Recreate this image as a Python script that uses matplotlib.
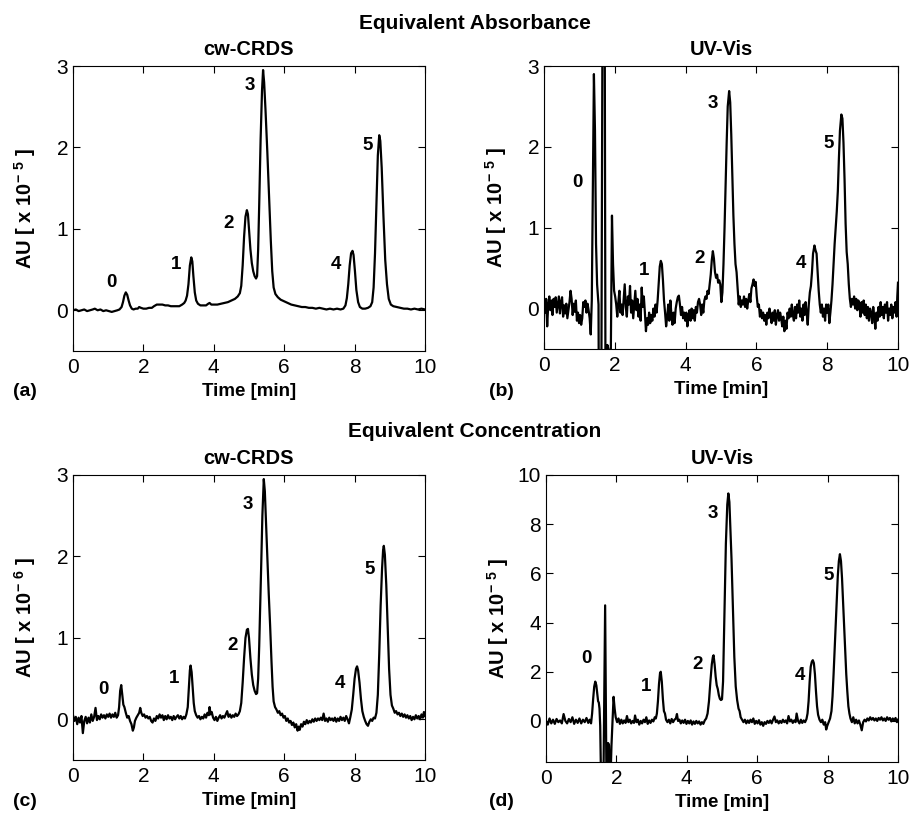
import numpy as np
import matplotlib
matplotlib.use('Agg')
import matplotlib.pyplot as plt

plt.rcParams['font.family'] = ['Liberation Sans', 'DejaVu Sans']
plt.rcParams['mathtext.fontset'] = 'custom'
plt.rcParams['mathtext.rm'] = 'Liberation Sans'
plt.rcParams['mathtext.bf'] = 'Liberation Sans:bold'

# traces: (time [min], AU)
# (a) cw-CRDS, equivalent absorbance, x 1e-5
trace_a = [
    (0.00, 0.00), (0.08, 0.01), (0.16, -0.01), (0.24, 0.00), (0.32, 0.01), (0.40, -0.01), (0.48, 0.00),
    (0.56, 0.01), (0.62, 0.02), (0.70, 0.00), (0.78, 0.01), (0.86, -0.01), (0.94, 0.00), (1.02, -0.01),
    (1.10, -0.02), (1.18, -0.01), (1.26, 0.00), (1.32, 0.01), (1.38, 0.04), (1.42, 0.10), (1.46, 0.18),
    (1.50, 0.22), (1.54, 0.19), (1.58, 0.12), (1.62, 0.06), (1.67, 0.02), (1.72, 0.01), (1.78, 0.02),
    (1.84, 0.02), (1.88, 0.04), (1.93, 0.03), (2.00, 0.02), (2.08, 0.02), (2.16, 0.03), (2.24, 0.03),
    (2.30, 0.05), (2.38, 0.07), (2.46, 0.07), (2.54, 0.07), (2.62, 0.06), (2.70, 0.06), (2.78, 0.05),
    (2.86, 0.05), (2.94, 0.05), (3.02, 0.05), (3.10, 0.07), (3.16, 0.09), (3.20, 0.12), (3.24, 0.18),
    (3.28, 0.32), (3.32, 0.55), (3.36, 0.65), (3.39, 0.60), (3.42, 0.42), (3.46, 0.22), (3.50, 0.12),
    (3.55, 0.08), (3.62, 0.06), (3.70, 0.06), (3.78, 0.06), (3.84, 0.08), (3.88, 0.09), (3.93, 0.07),
    (4.00, 0.07), (4.10, 0.07), (4.20, 0.08), (4.30, 0.09), (4.40, 0.10), (4.50, 0.12), (4.60, 0.14),
    (4.68, 0.17), (4.74, 0.21), (4.78, 0.30), (4.82, 0.55), (4.86, 0.90), (4.90, 1.15), (4.94, 1.23),
    (4.97, 1.18), (5.00, 1.00), (5.04, 0.75), (5.08, 0.58), (5.12, 0.48), (5.16, 0.42), (5.20, 0.39),
    (5.23, 0.42), (5.26, 0.75), (5.29, 1.30), (5.33, 2.10), (5.37, 2.70), (5.40, 2.95), (5.43, 2.80),
    (5.47, 2.45), (5.52, 1.95), (5.57, 1.40), (5.62, 0.85), (5.66, 0.48), (5.70, 0.28), (5.75, 0.20),
    (5.82, 0.16), (5.90, 0.13), (6.00, 0.11), (6.10, 0.09), (6.20, 0.07), (6.30, 0.06), (6.40, 0.05),
    (6.50, 0.04), (6.60, 0.04), (6.70, 0.03), (6.80, 0.03), (6.90, 0.02), (7.00, 0.03), (7.10, 0.02),
    (7.20, 0.01), (7.30, 0.02), (7.40, 0.01), (7.50, 0.02), (7.60, 0.01), (7.68, 0.02), (7.74, 0.06),
    (7.78, 0.15), (7.82, 0.32), (7.86, 0.55), (7.90, 0.70), (7.94, 0.73), (7.97, 0.68), (8.01, 0.48),
    (8.05, 0.25), (8.10, 0.10), (8.15, 0.04), (8.22, 0.02), (8.30, 0.02), (8.38, 0.03), (8.45, 0.05),
    (8.50, 0.10), (8.54, 0.28), (8.58, 0.70), (8.62, 1.30), (8.66, 1.90), (8.70, 2.15), (8.73, 2.08),
    (8.77, 1.75), (8.82, 1.15), (8.87, 0.62), (8.92, 0.32), (8.97, 0.14), (9.03, 0.07), (9.10, 0.05),
    (9.20, 0.04), (9.30, 0.03), (9.40, 0.02), (9.50, 0.02), (9.60, 0.01), (9.70, 0.02), (9.80, 0.01),
    (9.90, 0.02), (10.00, 0.01),
]

# (b) UV-Vis, equivalent absorbance, x 1e-5
trace_b = [
    (0.00, 0.10), (0.03, -0.05), (0.06, 0.12), (0.09, -0.22), (0.12, 0.05), (0.15, 0.15), (0.18, -0.02),
    (0.21, 0.10), (0.24, -0.08), (0.27, 0.12), (0.30, 0.02), (0.33, 0.14), (0.36, -0.05), (0.39, 0.05),
    (0.42, 0.15), (0.45, -0.06), (0.48, 0.08), (0.51, 0.14), (0.54, -0.10), (0.57, 0.04), (0.60, -0.06),
    (0.63, 0.06), (0.66, -0.12), (0.69, -0.02), (0.72, 0.08), (0.75, 0.22), (0.78, 0.12), (0.81, -0.08),
    (0.84, 0.06), (0.87, -0.04), (0.90, 0.10), (0.93, -0.15), (0.96, -0.05), (0.99, -0.18), (1.02, -0.08),
    (1.05, -0.20), (1.08, -0.12), (1.11, 0.08), (1.14, 0.02), (1.17, 0.10), (1.20, -0.05), (1.23, 0.06),
    (1.26, -0.02), (1.29, -0.12), (1.32, -0.32), (1.35, 0.10), (1.38, 1.50), (1.41, 2.90), (1.44, 2.20),
    (1.47, 0.80), (1.50, 0.30), (1.54, 0.05), (1.585, -6.0), (1.69, 9.0), (1.76, -6.0), (1.79, -0.45),
    (1.82, -0.50), (1.86, -2.0), (1.92, 1.15), (1.95, 0.55), (1.98, 0.22),
    (2.01, 0.15), (2.04, 0.05), (2.07, -0.10), (2.10, 0.08), (2.13, 0.22), (2.16, -0.05), (2.19, 0.05),
    (2.22, -0.08), (2.25, 0.12), (2.28, 0.30), (2.31, 0.02), (2.34, -0.10), (2.37, 0.15), (2.40, 0.05),
    (2.43, 0.28), (2.46, -0.05), (2.49, 0.10), (2.52, -0.12), (2.55, 0.05), (2.58, 0.22), (2.61, -0.02),
    (2.64, 0.12), (2.67, -0.10), (2.70, 0.05), (2.73, -0.15), (2.76, 0.26), (2.79, 0.02), (2.82, 0.15),
    (2.85, -0.05), (2.88, -0.28), (2.91, -0.12), (2.94, -0.20), (2.97, -0.05), (3.00, -0.18), (3.03, -0.08),
    (3.06, -0.15), (3.09, 0.00), (3.12, -0.10), (3.15, 0.05), (3.18, -0.05), (3.21, 0.10), (3.24, 0.30),
    (3.27, 0.52), (3.30, 0.59), (3.33, 0.55), (3.36, 0.35), (3.39, 0.10), (3.42, -0.05), (3.45, -0.22),
    (3.48, -0.10), (3.51, 0.05), (3.54, -0.15), (3.57, 0.10), (3.60, -0.08), (3.63, -0.20), (3.66, -0.05),
    (3.69, -0.18), (3.72, 0.00), (3.75, 0.08), (3.78, 0.14), (3.81, 0.16), (3.84, 0.05), (3.87, -0.08),
    (3.90, 0.02), (3.93, -0.12), (3.96, -0.05), (3.99, -0.15), (4.02, -0.05), (4.05, -0.22), (4.08, -0.10),
    (4.11, -0.02), (4.14, -0.15), (4.17, 0.00), (4.20, -0.12), (4.23, -0.02), (4.26, -0.15), (4.29, 0.02),
    (4.32, -0.05), (4.35, 0.08), (4.38, 0.12), (4.41, 0.05), (4.44, -0.08), (4.47, 0.05), (4.50, -0.05),
    (4.53, 0.10), (4.56, 0.15), (4.59, 0.12), (4.62, 0.22), (4.65, 0.18), (4.68, 0.30), (4.71, 0.42),
    (4.74, 0.60), (4.77, 0.71), (4.80, 0.62), (4.83, 0.45), (4.86, 0.38), (4.89, 0.42), (4.92, 0.32),
    (4.95, 0.35), (4.98, 0.30), (5.01, 0.08), (5.04, 0.20), (5.07, 0.55), (5.10, 1.00), (5.13, 1.55),
    (5.16, 2.05), (5.19, 2.50), (5.23, 2.69), (5.26, 2.55), (5.29, 2.15), (5.32, 1.65), (5.35, 1.15),
    (5.38, 0.80), (5.41, 0.55), (5.44, 0.45), (5.47, 0.25), (5.50, 0.05), (5.53, 0.15), (5.56, 0.02),
    (5.59, 0.10), (5.62, 0.05), (5.65, 0.15), (5.68, 0.02), (5.71, 0.12), (5.74, 0.00), (5.77, 0.10),
    (5.80, 0.18), (5.83, 0.08), (5.86, 0.25), (5.89, 0.30), (5.92, 0.36), (5.95, 0.28), (5.98, 0.33),
    (6.01, 0.15), (6.04, 0.02), (6.07, 0.05), (6.10, -0.10), (6.13, -0.02), (6.16, -0.12), (6.19, -0.05),
    (6.22, -0.15), (6.25, -0.08), (6.28, -0.20), (6.31, -0.05), (6.34, -0.12), (6.37, 0.00), (6.40, -0.08),
    (6.43, -0.18), (6.46, -0.05), (6.49, -0.15), (6.52, -0.02), (6.55, -0.20), (6.58, -0.08), (6.61, -0.02),
    (6.64, -0.15), (6.67, -0.05), (6.70, -0.12), (6.73, -0.22), (6.76, -0.10), (6.79, -0.28), (6.82, -0.15),
    (6.85, -0.25), (6.88, -0.05), (6.91, -0.12), (6.94, 0.00), (6.97, -0.10), (7.00, 0.05), (7.03, -0.08),
    (7.06, -0.15), (7.09, 0.02), (7.12, -0.12), (7.15, 0.05), (7.18, -0.05), (7.21, 0.10), (7.24, -0.10),
    (7.27, 0.00), (7.30, -0.15), (7.33, 0.05), (7.36, -0.08), (7.39, 0.08), (7.42, -0.05), (7.45, -0.20),
    (7.48, 0.05), (7.51, 0.20), (7.54, 0.28), (7.57, 0.45), (7.60, 0.68), (7.64, 0.78), (7.67, 0.72),
    (7.70, 0.68), (7.73, 0.45), (7.76, 0.22), (7.79, 0.05), (7.82, -0.05), (7.85, 0.05), (7.88, -0.10),
    (7.91, 0.00), (7.94, -0.15), (7.97, 0.05), (8.00, -0.05), (8.03, 0.05), (8.06, -0.18), (8.09, -0.05),
    (8.12, 0.10), (8.15, 0.30), (8.18, 0.55), (8.21, 0.80), (8.24, 1.00), (8.27, 1.20), (8.30, 1.45),
    (8.33, 1.85), (8.36, 2.20), (8.40, 2.40), (8.43, 2.35), (8.46, 2.05), (8.49, 1.60), (8.52, 1.05),
    (8.55, 0.70), (8.58, 0.55), (8.61, 0.30), (8.64, 0.12), (8.67, 0.02), (8.70, 0.12), (8.73, 0.05),
    (8.76, 0.15), (8.79, 0.00), (8.82, 0.12), (8.85, -0.02), (8.88, 0.10), (8.91, 0.05), (8.94, -0.10),
    (8.97, 0.08), (9.00, -0.05), (9.03, 0.10), (9.06, -0.08), (9.09, 0.05), (9.12, -0.12), (9.15, 0.02),
    (9.18, -0.15), (9.21, 0.00), (9.24, -0.05), (9.27, -0.18), (9.30, 0.02), (9.33, -0.10), (9.36, -0.25),
    (9.39, -0.05), (9.42, -0.15), (9.45, 0.02), (9.48, -0.10), (9.51, 0.08), (9.54, -0.08), (9.57, 0.02),
    (9.60, -0.12), (9.63, 0.05), (9.66, -0.05), (9.69, 0.08), (9.72, -0.15), (9.75, 0.00), (9.78, -0.08),
    (9.81, 0.05), (9.84, -0.12), (9.87, 0.02), (9.90, -0.05), (9.93, 0.08), (9.96, -0.10), (9.98, 0.15),
    (10.00, 0.32),
]

# (c) cw-CRDS, equivalent concentration, x 1e-6
trace_c = [
    (0.00, 0.05), (0.04, -0.02), (0.08, 0.03), (0.12, -0.06), (0.16, 0.02), (0.20, -0.04), (0.24, 0.04),
    (0.28, -0.17), (0.32, -0.02), (0.36, 0.03), (0.40, -0.05), (0.44, 0.02), (0.48, -0.04), (0.52, 0.06),
    (0.56, -0.02), (0.60, 0.03), (0.64, 0.14), (0.68, -0.01), (0.72, 0.04), (0.76, 0.00), (0.80, 0.06),
    (0.84, 0.02), (0.88, 0.05), (0.92, 0.01), (0.96, 0.06), (1.00, 0.03), (1.04, 0.07), (1.08, 0.02),
    (1.12, 0.06), (1.16, 0.03), (1.20, 0.08), (1.24, 0.02), (1.28, 0.05), (1.31, 0.15), (1.34, 0.35),
    (1.37, 0.42), (1.40, 0.30), (1.43, 0.18), (1.46, 0.15), (1.50, 0.08), (1.54, 0.02), (1.58, 0.04),
    (1.62, -0.02), (1.66, -0.06), (1.70, -0.14), (1.73, -0.10), (1.76, -0.02), (1.80, 0.02), (1.84, 0.05),
    (1.88, 0.08), (1.91, 0.14), (1.94, 0.08), (1.98, 0.04), (2.02, 0.06), (2.06, 0.02), (2.10, 0.04),
    (2.14, 0.01), (2.18, 0.03), (2.22, -0.02), (2.26, -0.04), (2.30, 0.01), (2.34, -0.02), (2.38, 0.04),
    (2.42, 0.01), (2.46, 0.06), (2.50, 0.02), (2.54, 0.05), (2.58, -0.01), (2.62, 0.04), (2.66, 0.00),
    (2.70, 0.05), (2.74, 0.01), (2.78, 0.03), (2.82, -0.01), (2.86, 0.04), (2.90, 0.00), (2.94, 0.03),
    (2.98, 0.05), (3.02, 0.01), (3.06, 0.04), (3.10, 0.00), (3.14, 0.03), (3.18, 0.01), (3.22, 0.06),
    (3.26, 0.15), (3.29, 0.38), (3.32, 0.60), (3.34, 0.66), (3.37, 0.58), (3.40, 0.38), (3.43, 0.20),
    (3.46, 0.10), (3.50, 0.05), (3.54, 0.02), (3.58, 0.04), (3.62, 0.00), (3.66, 0.03), (3.70, 0.01),
    (3.74, 0.06), (3.78, 0.02), (3.82, 0.08), (3.86, 0.05), (3.88, 0.15), (3.91, 0.06), (3.94, 0.09),
    (3.98, 0.02), (4.02, -0.01), (4.06, 0.03), (4.10, -0.02), (4.14, 0.02), (4.18, 0.05), (4.22, 0.01),
    (4.26, 0.04), (4.30, 0.02), (4.34, 0.06), (4.38, 0.10), (4.42, 0.03), (4.46, 0.06), (4.50, 0.02),
    (4.54, 0.05), (4.58, 0.03), (4.62, 0.07), (4.66, 0.04), (4.70, 0.06), (4.74, 0.10), (4.78, 0.20),
    (4.82, 0.45), (4.86, 0.75), (4.90, 1.00), (4.94, 1.10), (4.97, 1.11), (5.00, 1.00), (5.04, 0.75),
    (5.08, 0.55), (5.12, 0.42), (5.16, 0.35), (5.20, 0.31), (5.23, 0.32), (5.26, 0.50), (5.29, 0.90),
    (5.32, 1.40), (5.35, 1.95), (5.38, 2.50), (5.42, 2.95), (5.45, 2.80), (5.48, 2.45), (5.52, 2.00),
    (5.56, 1.55), (5.60, 1.15), (5.64, 0.70), (5.67, 0.40), (5.70, 0.22), (5.74, 0.15), (5.78, 0.12),
    (5.82, 0.08), (5.86, 0.10), (5.90, 0.05), (5.94, 0.07), (5.98, 0.02), (6.02, 0.04), (6.06, -0.02),
    (6.10, 0.01), (6.14, -0.04), (6.18, -0.02), (6.22, -0.07), (6.26, -0.04), (6.30, -0.10), (6.34, -0.06),
    (6.38, -0.14), (6.41, -0.09), (6.44, -0.13), (6.48, -0.06), (6.52, -0.09), (6.56, -0.03), (6.60, -0.06),
    (6.64, -0.01), (6.68, -0.05), (6.72, -0.02), (6.76, -0.04), (6.80, 0.00), (6.84, -0.03), (6.88, 0.01),
    (6.92, -0.02), (6.96, 0.01), (7.00, -0.01), (7.04, 0.02), (7.08, -0.01), (7.12, 0.07), (7.16, -0.02),
    (7.20, 0.01), (7.24, -0.03), (7.28, 0.02), (7.32, -0.01), (7.36, 0.01), (7.40, -0.02), (7.44, 0.02),
    (7.48, -0.03), (7.52, 0.01), (7.56, -0.02), (7.60, 0.03), (7.64, -0.01), (7.68, 0.02), (7.72, -0.02),
    (7.76, 0.04), (7.80, 0.00), (7.84, -0.05), (7.88, 0.03), (7.92, 0.12), (7.96, 0.30), (8.00, 0.50),
    (8.04, 0.62), (8.07, 0.65), (8.10, 0.60), (8.14, 0.45), (8.18, 0.25), (8.22, 0.10), (8.26, 0.03),
    (8.30, -0.02), (8.34, -0.06), (8.38, -0.08), (8.42, -0.03), (8.46, 0.00), (8.50, -0.02), (8.54, 0.02),
    (8.58, 0.01), (8.62, 0.08), (8.66, 0.30), (8.70, 0.80), (8.74, 1.40), (8.78, 1.85), (8.81, 2.08),
    (8.83, 2.13), (8.86, 2.02), (8.90, 1.65), (8.94, 1.15), (8.98, 0.62), (9.02, 0.30), (9.06, 0.17),
    (9.10, 0.13), (9.14, 0.08), (9.18, 0.10), (9.22, 0.06), (9.26, 0.08), (9.30, 0.04), (9.34, 0.07),
    (9.38, 0.03), (9.42, 0.06), (9.46, 0.02), (9.50, 0.05), (9.54, 0.01), (9.58, 0.04), (9.62, -0.01),
    (9.66, 0.03), (9.70, 0.00), (9.74, 0.05), (9.78, 0.01), (9.82, 0.04), (9.86, 0.00), (9.90, 0.06),
    (9.94, 0.02), (9.97, 0.09), (10.00, 0.04),
]

# (d) UV-Vis, equivalent concentration, x 1e-5
trace_d = [
    (0.00, 0.00), (0.05, -0.15), (0.10, 0.10), (0.15, -0.10), (0.20, 0.05), (0.25, -0.12), (0.30, 0.08),
    (0.35, -0.05), (0.40, 0.02), (0.45, -0.10), (0.50, 0.28), (0.55, 0.00), (0.60, -0.10), (0.65, 0.08),
    (0.70, -0.05), (0.75, 0.15), (0.80, -0.12), (0.85, 0.05), (0.90, -0.08), (0.95, 0.10), (1.00, -0.10),
    (1.05, 0.05), (1.10, -0.05), (1.15, 0.12), (1.20, -0.08), (1.24, 0.05), (1.28, -0.10), (1.31, 0.30),
    (1.34, 0.90), (1.37, 1.40), (1.40, 1.60), (1.43, 1.45), (1.46, 1.05), (1.48, 0.80), (1.50, 0.75),
    (1.52, 0.50), (1.54, -0.20), (1.575, -3.5), (1.625, -3.5), (1.68, 4.70), (1.72, -3.0), (1.765, -0.90),
    (1.79, -1.00), (1.82, -3.0), (1.86, -1.0), (1.92, 0.98), (1.95, 0.50), (1.98, 0.15), (2.02, -0.05),
    (2.06, 0.10), (2.10, -0.12), (2.14, 0.05), (2.18, -0.10), (2.22, 0.02), (2.26, -0.08), (2.30, 0.20),
    (2.34, -0.05), (2.38, 0.05), (2.42, -0.10), (2.46, 0.00), (2.50, -0.08), (2.53, 0.22), (2.57, -0.05),
    (2.61, 0.05), (2.65, -0.15), (2.69, 0.00), (2.73, -0.10), (2.77, 0.05), (2.81, -0.05), (2.85, 0.15),
    (2.89, -0.12), (2.93, 0.02), (2.97, -0.08), (3.01, 0.05), (3.05, -0.02), (3.09, 0.15), (3.12, 0.10),
    (3.15, 0.30), (3.18, 0.80), (3.21, 1.50), (3.24, 1.95), (3.26, 2.00), (3.29, 1.60), (3.32, 0.90),
    (3.35, 0.40), (3.38, 0.30), (3.41, 0.05), (3.45, -0.05), (3.49, 0.05), (3.53, -0.10), (3.57, 0.08),
    (3.61, -0.05), (3.65, 0.05), (3.69, 0.10), (3.72, 0.28), (3.75, 0.00), (3.79, 0.05), (3.83, -0.10),
    (3.87, 0.02), (3.91, -0.08), (3.95, 0.05), (3.99, -0.12), (4.03, 0.00), (4.07, -0.10), (4.11, 0.02),
    (4.15, -0.15), (4.19, -0.02), (4.23, -0.12), (4.27, 0.00), (4.31, -0.10), (4.35, -0.02), (4.39, -0.15),
    (4.43, -0.05), (4.47, -0.12), (4.51, 0.02), (4.55, 0.10), (4.59, 0.30), (4.63, 0.80), (4.67, 1.60),
    (4.71, 2.30), (4.74, 2.60), (4.76, 2.67), (4.79, 2.30), (4.82, 1.80), (4.85, 1.45), (4.88, 1.30),
    (4.91, 1.05), (4.94, 0.90), (4.97, 0.85), (5.00, 0.88), (5.03, 1.60), (5.07, 4.30), (5.11, 7.20),
    (5.15, 8.80), (5.18, 9.25), (5.21, 8.90), (5.24, 7.80), (5.27, 6.60), (5.31, 4.60), (5.35, 2.60),
    (5.39, 1.40), (5.43, 0.85), (5.47, 0.50), (5.50, 0.40), (5.53, 0.15), (5.57, 0.05), (5.61, -0.05),
    (5.65, 0.05), (5.69, -0.10), (5.73, 0.02), (5.77, -0.08), (5.81, 0.05), (5.85, -0.05), (5.89, 0.10),
    (5.93, -0.12), (5.97, 0.00), (6.01, -0.10), (6.05, 0.03), (6.09, -0.15), (6.13, -0.05), (6.17, -0.20),
    (6.21, -0.05), (6.25, -0.12), (6.29, 0.00), (6.33, -0.08), (6.37, 0.02), (6.41, -0.10), (6.45, 0.05),
    (6.49, 0.18), (6.53, -0.05), (6.57, 0.02), (6.61, -0.10), (6.65, 0.00), (6.69, -0.08), (6.73, 0.05),
    (6.77, -0.05), (6.81, 0.02), (6.85, -0.10), (6.89, 0.20), (6.93, -0.02), (6.97, 0.05), (7.01, -0.08),
    (7.05, 0.02), (7.09, -0.05), (7.12, 0.30), (7.16, 0.00), (7.20, -0.10), (7.24, 0.05), (7.28, -0.08),
    (7.32, 0.02), (7.36, -0.05), (7.40, 0.08), (7.43, 0.30), (7.46, 0.80), (7.49, 1.60), (7.52, 2.20),
    (7.55, 2.40), (7.58, 2.47), (7.61, 2.35), (7.64, 1.90), (7.67, 1.20), (7.70, 0.60), (7.73, 0.25),
    (7.77, 0.05), (7.81, -0.05), (7.85, 0.05), (7.89, -0.15), (7.93, -0.05), (7.96, -0.35), (7.99, -0.20),
    (8.03, -0.05), (8.07, 0.10), (8.11, 0.40), (8.14, 1.00), (8.17, 1.90), (8.20, 2.90), (8.23, 4.00),
    (8.26, 5.00), (8.29, 5.90), (8.32, 6.50), (8.35, 6.78), (8.38, 6.50), (8.41, 5.80), (8.44, 4.80),
    (8.47, 3.80), (8.50, 2.80), (8.53, 1.90), (8.56, 1.20), (8.59, 0.60), (8.62, 0.30), (8.65, 0.10),
    (8.69, -0.05), (8.73, 0.15), (8.77, -0.10), (8.81, 0.05), (8.85, -0.10), (8.89, 0.02), (8.93, -0.15),
    (8.97, -0.38), (9.01, -0.05), (9.05, 0.05), (9.09, -0.02), (9.13, 0.10), (9.17, 0.02), (9.21, 0.15),
    (9.25, 0.05), (9.29, 0.12), (9.33, 0.02), (9.37, 0.10), (9.41, 0.00), (9.45, 0.12), (9.49, 0.05),
    (9.53, 0.15), (9.57, 0.02), (9.61, 0.10), (9.65, 0.00), (9.69, 0.15), (9.73, 0.05), (9.77, 0.12),
    (9.81, -0.02), (9.85, 0.10), (9.89, 0.02), (9.93, 0.12), (9.97, -0.05), (10.00, 0.05),
]

peak_names = ['0', '1', '2', '3', '4', '5']
# where the peak numbers sit, (time, AU)
peak_pos_a = [(1.09, 0.34), (2.94, 0.56), (4.43, 1.07), (5.02, 2.76), (7.48, 0.56), (8.38, 2.02)]
peak_pos_b = [(0.95, 1.56), (2.82, 0.47), (4.39, 0.62), (4.76, 2.54), (7.25, 0.56), (8.05, 2.04)]
peak_pos_c = [(0.87, 0.36), (2.87, 0.50), (4.52, 0.91), (4.97, 2.64), (7.59, 0.44), (8.43, 1.84)]
peak_pos_d = [(1.16, 2.54), (2.84, 1.38), (4.30, 2.31), (4.74, 8.44), (7.22, 1.86), (8.04, 5.90)]


def drawPanel(fig, rect, trace, ylim, yticks, title, exponent, peak_pos, letter, letter_xy):
    ax = fig.add_axes(rect)
    t, y = np.array(trace).T
    ax.plot(t, y, color='black', lw=1.6)
    ax.set_xlim(0, 10)
    ax.set_ylim(*ylim)
    ax.set_xticks(range(0, 11, 2))
    ax.set_yticks(yticks)
    ax.tick_params(direction='in', top=True, right=True, length=5, width=0.8, labelsize=15)
    ax.tick_params(axis='x', pad=5)
    for s in ax.spines.values():
        s.set_linewidth(0.8)
    ax.set_title(title, fontsize=14.5, fontweight='bold', pad=8)
    ax.set_xlabel('Time [min]', fontsize=13.5, fontweight='bold')
    ax.xaxis.set_label_coords(0.5, -0.113)
    ax.set_ylabel(r'AU [ x 10$^{\mathbf{-\ %s}}$ ]' % exponent, fontsize=14.5, fontweight='bold')
    ax.yaxis.set_label_coords(-0.10, 0.5)
    for name, (px, py) in zip(peak_names, peak_pos):
        ax.text(px, py, name, fontsize=13.5, fontweight='bold', ha='center', va='center')
    fig.text(letter_xy[0] / 909, 1 - letter_xy[1] / 815, letter, fontsize=14,
             fontweight='bold', ha='center', va='center')
    return ax


def main():
    fig = plt.figure(figsize=(9.09, 8.15), dpi=100)
    W, H = 909.0, 815.0
    drawPanel(fig, [73 / W, 1 - 351 / H, 352 / W, 285 / H], trace_a, (-0.5, 3), [0, 1, 2, 3],
              'cw-CRDS', '5', peak_pos_a, '(a)', (25, 392))
    drawPanel(fig, [544 / W, 1 - 349 / H, 354 / W, 283 / H], trace_b, (-0.5, 3), [0, 1, 2, 3],
              'UV-Vis', '5', peak_pos_b, '(b)', (501, 392))
    drawPanel(fig, [73 / W, 1 - 760 / H, 352 / W, 285 / H], trace_c, (-0.5, 3), [0, 1, 2, 3],
              'cw-CRDS', '6', peak_pos_c, '(c)', (25, 801))
    drawPanel(fig, [546 / W, 1 - 762 / H, 352 / W, 287 / H], trace_d, (-1.67, 10), [0, 2, 4, 6, 8, 10],
              'UV-Vis', '5', peak_pos_d, '(d)', (501, 802))
    fig.text(475 / W, 1 - 29 / H, 'Equivalent Absorbance', fontsize=15, fontweight='bold',
             ha='center', va='baseline')
    fig.text(475 / W, 1 - 437 / H, 'Equivalent Concentration', fontsize=15, fontweight='bold',
             ha='center', va='baseline')
    fig.savefig('out.png', dpi=100)
    plt.close(fig)


if __name__ == '__main__':
    main()
